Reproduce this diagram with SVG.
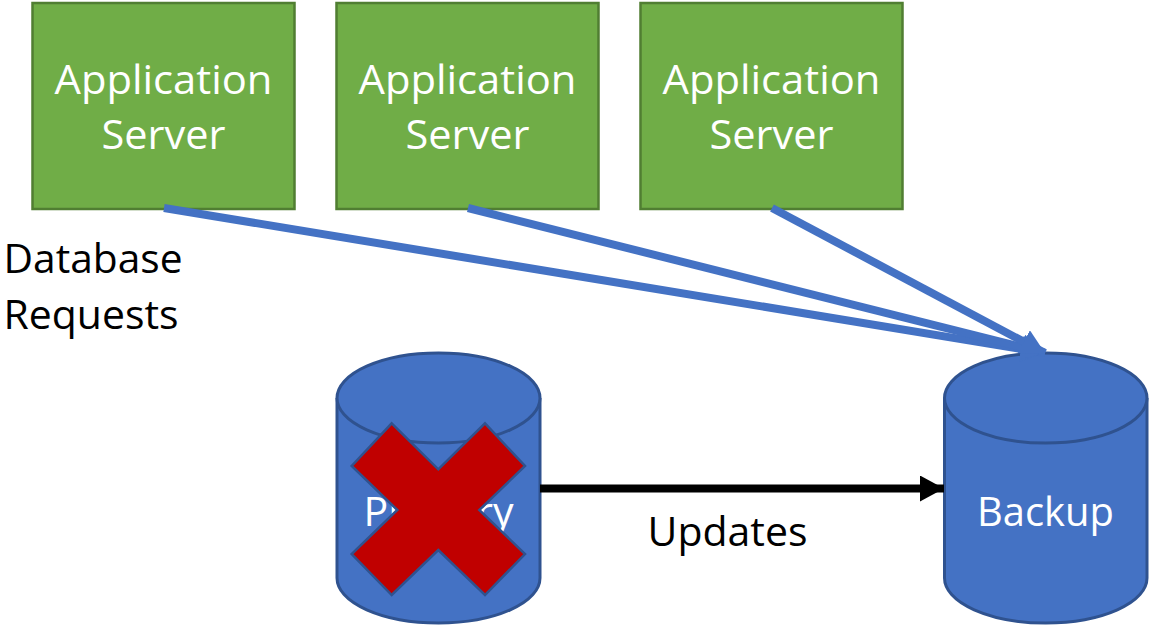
<svg xmlns="http://www.w3.org/2000/svg" width="1150" height="626" viewBox="0 0 1150 626">
<defs>
<marker id="blueHead" markerUnits="userSpaceOnUse" markerWidth="28" markerHeight="28" refX="24" refY="13" orient="auto"><path d="M0 0L24 13L0 26Z" fill="#4472c4"/></marker>
<marker id="blackHead" markerUnits="userSpaceOnUse" markerWidth="28" markerHeight="28" refX="24" refY="13" orient="auto"><path d="M0 0L24 13L0 26Z" fill="#000"/></marker>
</defs>
<style>
text{font-family:"Open Sans","Noto Sans","Liberation Sans",sans-serif;font-size:40px;text-anchor:middle}
.w{fill:#fff}.k{fill:#000}
.srv{fill:#70ad47;stroke:#507e32;stroke-width:2.5}
.db{fill:#4472c4;stroke:#2f528f;stroke-width:3}
.edge{fill:none;stroke:#4472c4;stroke-width:8;marker-end:url(#blueHead)}
</style>
<g id="server1"><rect class="srv" x="32.500" y="3" width="262" height="206"/><text class="w" x="163.500" y="94" textLength="218" lengthAdjust="spacingAndGlyphs">Application</text><text class="w" x="163.500" y="149" textLength="124" lengthAdjust="spacingAndGlyphs">Server</text></g>
<g id="server2"><rect class="srv" x="336.500" y="3" width="262" height="206"/><text class="w" x="467.500" y="94" textLength="218" lengthAdjust="spacingAndGlyphs">Application</text><text class="w" x="467.500" y="149" textLength="124" lengthAdjust="spacingAndGlyphs">Server</text></g>
<g id="server3"><rect class="srv" x="640.500" y="3" width="262" height="206"/><text class="w" x="771.500" y="94" textLength="218" lengthAdjust="spacingAndGlyphs">Application</text><text class="w" x="771.500" y="149" textLength="124" lengthAdjust="spacingAndGlyphs">Server</text></g>
<g id="primary"><path class="db" d="M337 398V578A101.500 45 0 0 0 540 578V398A101.500 45 0 0 0 337 398Z"/><path class="db" d="M337 398A101.500 45 0 0 0 540 398"/><text class="w" x="438.500" y="526" textLength="150" lengthAdjust="spacingAndGlyphs">Primary</text></g>
<g id="backup"><path class="db" d="M944.500 398V578A101.250 45 0 0 0 1147 578V398A101.250 45 0 0 0 944.500 398Z"/><path class="db" d="M944.500 398A101.250 45 0 0 0 1147 398"/><text class="w" x="1045.500" y="526" textLength="137" lengthAdjust="spacingAndGlyphs">Backup</text></g>
<g id="connectors">
<line class="edge" x1="164" y1="208" x2="1045" y2="353"/>
<line class="edge" x1="468" y1="208" x2="1045" y2="353"/>
<line class="edge" x1="772" y1="208" x2="1045" y2="353"/>
<line x1="540" y1="488.500" x2="944" y2="488.500" stroke="#000" stroke-width="8" marker-end="url(#blackHead)"/>
</g>
<g id="failure-cross"><path d="M391.700 423.300L438.300 469.300L485 423.300L525 466L479.300 510L525 554L485 595L438.300 550L391.700 595L351.700 554L397.300 510L351.700 466Z" fill="#c00000" stroke="#2f528f" stroke-width="2.500"/></g>
<g id="labels">
<text class="k" x="93" y="273" textLength="179" lengthAdjust="spacingAndGlyphs">Database</text>
<text class="k" x="91" y="329" textLength="175" lengthAdjust="spacingAndGlyphs">Requests</text>
<text class="k" x="727.500" y="546" textLength="160" lengthAdjust="spacingAndGlyphs">Updates</text>
</g>
</svg>
